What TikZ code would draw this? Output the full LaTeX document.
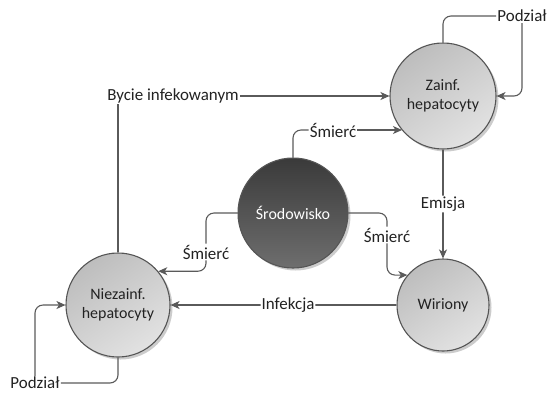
\documentclass[tikz,border=0pt]{standalone}
\usepackage{fontspec}
\setmainfont{Carlito}
\usetikzlibrary{arrows.meta,shadows}
\definecolor{linec}{HTML}{5A5A5A}
\definecolor{ringc}{HTML}{555555}
\definecolor{lightA}{HTML}{BDBDBD}
\definecolor{lightB}{HTML}{E2E2E2}
\definecolor{darkA}{HTML}{3A3A3A}
\definecolor{darkB}{HTML}{6E6E6E}
\definecolor{txt}{HTML}{222222}
\tikzset{
  state/.style={circle, draw=ringc, line width=1.1bp, inner sep=0pt,
    shading=axis, top color=lightA, bottom color=lightB, shading angle=35,
    align=center, text=txt, font=\fontsize{16}{18.5}\selectfont,
    drop shadow={shadow xshift=2.5bp, shadow yshift=-2.5bp, fill=black!20, opacity=1}},
  darkstate/.style={state, top color=darkA, bottom color=darkB, text=white},
  lbl/.style={fill=white, inner sep=1bp, text=txt, font=\fontsize{17}{19}\selectfont},
  conn/.style={draw=linec, line width=1.1bp, rounded corners=8bp},
  arr/.style={conn, -{Stealth[length=9bp,width=8bp,inset=2.5bp]}}
}
\begin{document}
\begin{tikzpicture}[x=1bp,y=-1bp]
\useasboundingbox (0,0) rectangle (550,394);

% states
\node[state, minimum size=106bp] (z) at (443,96) {Zainf.\\hepatocyty};
\node[darkstate, minimum size=110bp] (s) at (293,213) {Środowisko};
\node[state, minimum size=92bp] (w) at (443,305) {Wiriony};
\node[state, minimum size=104bp] (n) at (118,305) {Niezainf.\\hepatocyty};

% transition labels
\node[lbl] (pz) at (522,16) {Podział};
\node[lbl] (pn) at (35,383) {Podział};
\node[lbl] (by) at (173,96) {Bycie infekowanym};
\node[lbl] (sm1) at (333,130) {Śmierć};
\node[lbl] (sm2) at (387,235) {Śmierć};
\node[lbl] (sm3) at (206,252) {Śmierć};

% division of infected cells
\draw[conn] (z.north) |- (pz.west);
\draw[arr] (pz.south) |- (z.east);

% division of uninfected cells
\draw[conn] (n.south) |- (pn.east);
\draw[arr] (pn.north) |- (n.west);

% infection of cells
\draw[conn] (n.north) -- (n.north |- by.south);
\draw[arr] (by.east) -- (z.west);

% deaths caused by the environment
\draw[conn] (s.north) |- (sm1.west);
\draw[arr] (sm1.east) -- (sm1.east -| z.220);
\draw[conn] (s.east) -| (sm2.north);
\draw[arr] (sm2.south) |- (w.140);
\draw[conn] (s.west) -| (sm3.north);
\draw[arr] (sm3.south) |- (n.40);

% emission and infection
\draw[arr] (z.south) -- node[lbl] (em) {Emisja} (w.north);
\draw[arr] (w.west) -- node[lbl, pos=0.48] (inf) {Infekcja} (n.east);
\end{tikzpicture}
\end{document}
